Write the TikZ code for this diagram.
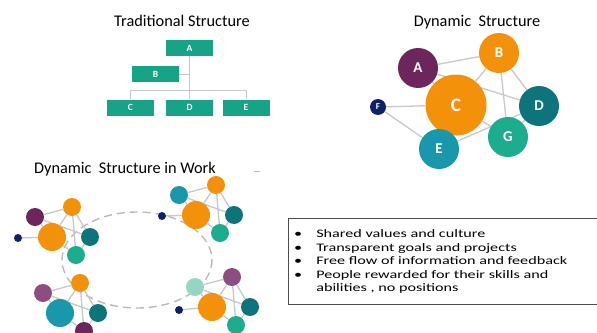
\documentclass[tikz,border=0pt]{standalone}
\usepackage{fontspec}
\usepackage{graphicx}
\setmainfont{Carlito}
\usetikzlibrary{backgrounds}

\definecolor{orggreen}{RGB}{22,163,134}
\definecolor{linkgrey}{RGB}{200,200,200}
\definecolor{plum}{RGB}{108,38,92}
\definecolor{amber}{RGB}{243,146,10}
\definecolor{petrol}{RGB}{12,116,122}
\definecolor{jade}{RGB}{28,172,142}
\definecolor{lagoon}{RGB}{24,152,170}
\definecolor{navy}{RGB}{14,34,108}
\definecolor{mauve}{RGB}{140,78,128}
\definecolor{mint}{RGB}{150,212,196}

\tikzset{
  title/.style={anchor=base, font=\fontsize{16.3}{19}\selectfont},
  orgbox/.style={fill=orggreen, text=white, minimum width=47pt, minimum height=16pt,
    inner sep=0pt, font=\bfseries\fontsize{9.5}{10}\selectfont},
  link/.style={draw=linkgrey, line width=1.3pt},
  bubble/.style={circle, inner sep=0pt, text=white, minimum size=40pt,
    font=\bfseries\fontsize{15}{16}\selectfont},
  wnode/.style={circle, inner sep=0pt, minimum size=18pt},
  wdot/.style={circle, inner sep=0pt, minimum size=8pt, fill=navy},
}

% one small team: #1 prefix, #2 centre, #3 a, #4 b, #5 c, #6 d, #7 g colours
\newcommand{\workgroup}[7]{%
  \begin{scope}[shift={#2}]
    \node[wnode, fill=#3] (#1a) at (-17,-20) {};
    \node[wnode, fill=#4] (#1b) at (20,-30) {};
    \node[wnode, fill=#5, minimum size=28pt] (#1c) at (0,0) {};
    \node[wnode, fill=#6] (#1d) at (38,0) {};
    \node[wnode, fill=#7] (#1g) at (24,18) {};
  \end{scope}
  \begin{scope}[on background layer]
    \draw[link] (#1a) -- (#1b);
    \draw[link] (#1a) -- (#1c);
    \draw[link] (#1a) -- (#1d);
    \draw[link] (#1b) -- (#1c);
    \draw[link] (#1b) -- (#1d);
    \draw[link] (#1b) -- (#1g);
    \draw[link] (#1c) -- (#1g);
    \draw[link] (#1d) -- (#1g);
  \end{scope}}

\begin{document}
\begin{tikzpicture}[x=1pt, y=-1pt]
\useasboundingbox (0,0) rectangle (597,332);

% traditional tree
\node[title] (ttitle) at (182,26) {Traditional Structure};
\node[orgbox] (ta) at (189.5,48) {A};
\node[orgbox] (tb) at (155.5,74) {B};
\node[orgbox] (tc) at (130.5,107.5) {C};
\node[orgbox] (td) at (189.5,107.5) {D};
\node[orgbox] (te) at (246,107.5) {E};
\coordinate (bar) at (189.5,90);
\draw[draw=linkgrey, line width=1pt] (ta) -- (td);
\draw[draw=linkgrey, line width=1pt] (tb) -- (tb -| ta);
\draw[draw=linkgrey, line width=1pt] (tc) -- (tc |- bar) -- (te |- bar) -- (te);

% dynamic network
\node[title] (dtitle) at (477,26) {Dynamic\ \ Structure};
\node[bubble, fill=plum] (a) at (418,68) {A};
\node[bubble, fill=amber] (b) at (499,53) {B};
\node[bubble, fill=amber, minimum size=61pt, font=\bfseries\fontsize{19}{20}\selectfont] (c) at (456,105) {C};
\node[bubble, fill=petrol] (d) at (539,106) {D};
\node[bubble, fill=jade] (g) at (508,137) {G};
\node[bubble, fill=lagoon] (e) at (439,149) {E};
\node[bubble, fill=navy, minimum size=16pt, font=\bfseries\fontsize{9}{10}\selectfont] (f) at (378,107) {F};
\begin{scope}[on background layer]
  \draw[link] (a) -- (b);
  \draw[link] (a) -- (c);
  \draw[link] (a) -- (d);
  \draw[link] (b) -- (c);
  \draw[link] (b) -- (g);
  \draw[link] (b) -- (d);
  \draw[link] (f) -- (c);
  \draw[link] (f) -- (e);
  \draw[link] (c) -- (g);
  \draw[link] (e) -- (d);
  \draw[link] (d) -- (g);
\end{scope}

% teams around the loop
\node[title] (wtitle) at (125,173) {Dynamic\ \ Structure in Work};
\draw[linkgrey!80!gray, line width=0.8pt] (254,171) -- (260,171);
\begin{scope}[on background layer]
  \draw[draw=gray!55, line width=1.4pt, dash pattern=on 8pt off 5pt] (137,260) ellipse (75 and 48);
\end{scope}
\workgroup{p}{(52,237)}{plum}{amber}{amber}{petrol}{jade}
\workgroup{q}{(196,215)}{lagoon}{amber}{amber}{petrol}{jade}
\workgroup{r}{(60,313)}{mauve}{amber}{lagoon}{petrol}{plum}
\workgroup{s}{(212,307)}{mint}{mauve}{amber}{petrol}{jade}
\node[wdot] (pf) at (18,238) {};
\node[wdot] (qf) at (162,216) {};
\node[wdot] (sf) at (179,310) {};
\begin{scope}[on background layer]
  \draw[link] (pf) -- (pc);
  \draw[link] (qf) -- (qc);
  \draw[link] (sf) -- (sc);
\end{scope}

% what the network stands on
\node[draw=black!70, line width=0.7pt, anchor=north west, minimum width=310pt,
  minimum height=86pt, inner sep=0pt] (values) at (288,218) {};
\node[anchor=base west, inner sep=0pt] (points) at (294,237.5) {%
  \resizebox{273pt}{\height}{\fontsize{11.5}{13.5}\selectfont
  \begin{tabular}[t]{@{}l@{\hspace{10pt}}l@{}}
    \textbullet & Shared values and culture\\
    \textbullet & Transparent goals and projects\\
    \textbullet & Free flow of information and feedback\\
    \textbullet & People rewarded for their skills and\\
                & abilities , no positions
  \end{tabular}}};
\end{tikzpicture}
\end{document}
